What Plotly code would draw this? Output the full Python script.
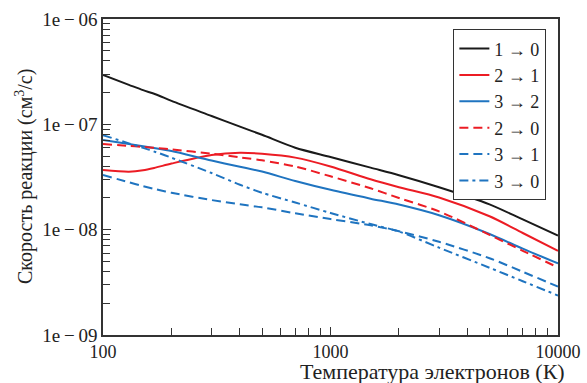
import plotly.graph_objects as go

# Electron temperature grid (K)
temperature = [100, 130, 150, 170, 200, 300, 400, 500, 700, 1000, 1500, 2000, 3000, 5000, 7000, 10000]

# Rate coefficients (cm^3/s) for each transition
rate_1_0 = [2.94e-7, 2.37e-7, 2.11e-7, 1.93e-7, 1.67e-7, 1.20e-7, 9.5e-8, 7.96e-8, 6.0e-8,
            4.90e-8, 3.88e-8, 3.29e-8, 2.53e-8, 1.74e-8, 1.25e-8, 8.8e-9]
rate_2_1 = [3.68e-8, 3.55e-8, 3.66e-8, 3.88e-8, 4.24e-8, 5.12e-8, 5.37e-8, 5.25e-8, 4.83e-8,
            3.98e-8, 3.01e-8, 2.53e-8, 2.02e-8, 1.34e-8, 9.3e-9, 6.3e-9]
rate_3_2 = [7.10e-8, 6.49e-8, 6.19e-8, 5.93e-8, 5.57e-8, 4.53e-8, 3.96e-8, 3.56e-8, 2.90e-8,
            2.39e-8, 1.97e-8, 1.73e-8, 1.37e-8, 9.1e-9, 6.6e-9, 4.78e-9]
rate_2_0 = [6.50e-8, 6.24e-8, 6.10e-8, 5.97e-8, 5.78e-8, 5.27e-8, 4.86e-8, 4.55e-8, 3.98e-8,
            3.21e-8, 2.47e-8, 2.0e-8, 1.49e-8, 8.93e-9, 6.3e-9, 4.38e-9]
rate_3_1 = [3.30e-8, 2.82e-8, 2.59e-8, 2.42e-8, 2.24e-8, 1.91e-8, 1.74e-8, 1.63e-8, 1.43e-8,
            1.26e-8, 1.10e-8, 9.66e-9, 7.67e-9, 5.36e-9, 3.98e-9, 2.88e-9]
rate_3_0 = [7.9e-8, 6.6e-8, 5.98e-8, 5.47e-8, 4.82e-8, 3.45e-8, 2.67e-8, 2.24e-8, 1.81e-8,
            1.44e-8, 1.13e-8, 9.6e-9, 6.75e-9, 4.35e-9, 3.24e-9, 2.37e-9]

x_tickvals = [100, 1000, 10000]
x_ticktext = ["100", "1000", "10000"]
y_tickvals = [1e-9, 1e-8, 1e-7, 1e-6]
y_ticktext = ["1e\u2009\u2212\u200909", "1e\u2009\u2212\u200908",
              "1e\u2009\u2212\u200907", "1e\u2009\u2212\u200906"]

BLACK = "#1a1a1a"
RED = "#ec1c24"
BLUE = "#1f74c0"

series = [
    ("1 \u2192 0", rate_1_0, BLACK, "solid"),
    ("2 \u2192 1", rate_2_1, RED, "solid"),
    ("3 \u2192 2", rate_3_2, BLUE, "solid"),
    ("2 \u2192 0", rate_2_0, RED, "9px,5px"),
    ("3 \u2192 1", rate_3_1, BLUE, "9px,5px"),
    ("3 \u2192 0", rate_3_0, BLUE, "9px,4px,3px,4px"),
]

fig = go.Figure()
for name, values, color, dash in series:
    fig.add_trace(go.Scatter(
        x=temperature, y=values, name=name, mode="lines",
        line=dict(color=color, width=2, dash=dash, shape="spline", smoothing=0.8),
    ))

FONT = "Liberation Serif, Times New Roman, Times, serif"
axis_common = dict(
    type="log", showline=True, linecolor="#333", linewidth=1.5, mirror=True,
    ticks="inside", ticklen=8, tickwidth=1.3, tickcolor="#333",
    showgrid=False, zeroline=False, automargin=False,
)

fig.update_layout(
    width=587, height=383,
    margin=dict(l=103, r=29, t=19, b=48, autoexpand=False),
    paper_bgcolor="white", plot_bgcolor="white",
    font=dict(family=FONT, color="#222"),
    showlegend=True,
    legend=dict(
        x=0.974, y=0.968, xanchor="right", yanchor="top",
        bordercolor="#333", borderwidth=1.2, bgcolor="white",
        font=dict(family=FONT, size=18, color="#222"),
        tracegroupgap=0,
    ),
    xaxis=dict(
        **axis_common, range=[2, 4],
        tickfont=dict(family=FONT, size=18, color="#222"),
        tickmode="array", tickvals=x_tickvals, ticktext=x_ticktext,
        minor=dict(ticks="inside", ticklen=7, tickwidth=1.2, tickcolor="#333", dtick="D1"),
    ),
    yaxis=dict(
        **axis_common, range=[-9, -6],
        tickfont=dict(family=FONT, size=19, color="#222"),
        tickmode="array", tickvals=y_tickvals, ticktext=y_ticktext,
        minor=dict(ticks="inside", ticklen=7, tickwidth=1.2, tickcolor="#333", dtick="D1"),
    ),
    annotations=[
        dict(
            text="Температура электронов (К)", xref="paper", yref="paper",
            x=1, y=0, xanchor="right", yanchor="top", xshift=8, yshift=-23,
            borderpad=0,
            showarrow=False, font=dict(family=FONT, size=22, color="#222"),
        ),
        dict(
            text="Скорость реакции (см<sup>3</sup>/с)", xref="paper", yref="paper",
            x=0, y=0.5, xanchor="center", yanchor="middle", xshift=-79, textangle=-90,
            showarrow=False, font=dict(family=FONT, size=20, color="#222"),
        ),
    ],
)

fig.write_html("out.html")
